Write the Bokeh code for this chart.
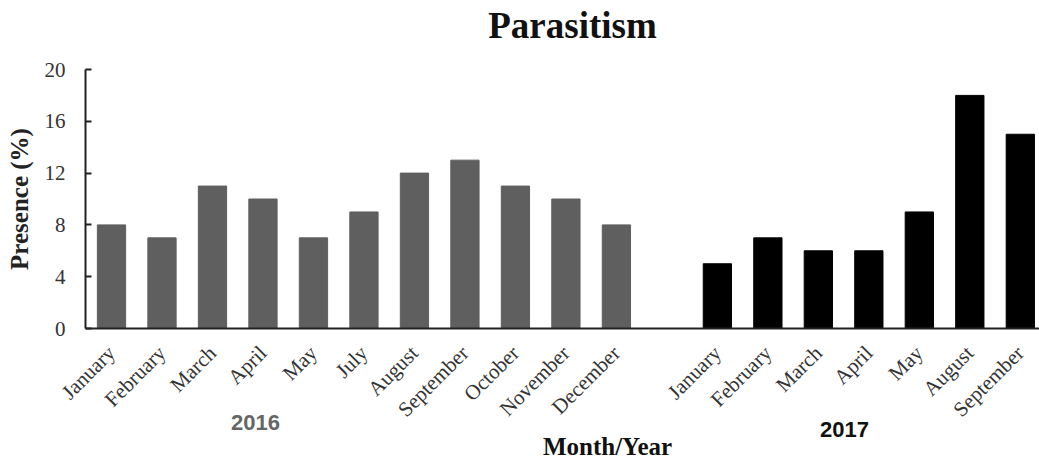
import math
from bokeh.plotting import figure
from bokeh.models import ColumnDataSource, FixedTicker, Range1d, LinearAxis
from bokeh.embed import file_html
from bokeh.resources import INLINE

# ---- data ----
months_2016 = ["January", "February", "March", "April", "May", "July", "August",
               "September", "October", "November", "December"]
values_2016 = [8, 7, 11, 10, 7, 9, 12, 13, 11, 10, 8]
months_2017 = ["January", "February", "March", "April", "May", "August", "September"]
values_2017 = [5, 7, 6, 6, 9, 18, 15]
y_ticks = [0, 4, 8, 12, 16, 20]

# slot positions (one empty slot between the years)
pos_2016 = list(range(len(months_2016)))
pos_2017 = [len(months_2016) + 1 + i for i in range(len(months_2017))]

W, H = 1039, 464
FL, FR, FT = 85, 0, 69
FB = H - 328
x_start, x_end = -0.515, 18.38
y_start, y_end = 0, 20

p = figure(width=W, height=H, output_backend="svg", toolbar_location=None,
           x_range=Range1d(x_start, x_end), y_range=Range1d(y_start, y_end),
           min_border_left=FL, min_border_right=FR, min_border_top=FT,
           min_border_bottom=FB)
p.outline_line_color = None
p.grid.visible = False
p.background_fill_color = "white"
p.border_fill_color = "white"
# pixel-like range across the frame, used only to place text labels
p.extra_x_ranges = {"px": Range1d(FL, W - FR)}

src16 = ColumnDataSource(dict(x=pos_2016, top=values_2016))
src17 = ColumnDataSource(dict(x=pos_2017, top=values_2017))
p.vbar(x="x", top="top", width=0.56, bottom=0, source=src16,
       fill_color="#5f5f5f", line_color="#5f5f5f")
p.vbar(x="x", top="top", width=0.56, bottom=0, source=src17,
       fill_color="#000000", line_color="#000000")

serif = "Liberation Serif"

# x axis
xa = p.xaxis[0]
xa.ticker = FixedTicker(ticks=pos_2016 + pos_2017)
overrides = {}
for i, m in zip(pos_2016, months_2016):
    overrides[i] = m
for i, m in zip(pos_2017, months_2017):
    overrides[i] = m
xa.major_label_overrides = overrides
xa.major_label_orientation = math.pi / 4
xa.major_label_text_font = serif
xa.major_label_text_font_size = "21px"
xa.major_label_text_color = "#333333"
xa.major_label_standoff = 15
xa.major_tick_line_color = None
xa.minor_tick_line_color = None
xa.axis_line_color = "#222222"
xa.axis_line_width = 2

# y axis
ya = p.yaxis[0]
ya.ticker = FixedTicker(ticks=y_ticks)
ya.major_label_text_font = serif
ya.major_label_text_font_size = "21px"
ya.major_label_text_color = "#333333"
ya.major_label_standoff = 20
ya.major_tick_in = 6
ya.major_tick_out = 0
ya.major_tick_line_width = 2
ya.major_tick_line_color = "#222222"
ya.minor_tick_line_color = None
ya.axis_line_color = "#222222"
ya.axis_line_width = 2
ya.axis_label = "Presence (%)"
ya.axis_label_text_font = serif
ya.axis_label_text_font_size = "25px"
ya.axis_label_text_font_style = "bold"
ya.axis_label_text_color = "#222222"
ya.axis_label_standoff = 9


def text_axis(xpos, text, side, standoff, font, size, style, color):
    ax = LinearAxis(x_range_name="px", ticker=FixedTicker(ticks=[xpos]),
                    major_label_overrides={xpos: text},
                    axis_line_color=None, major_tick_line_color=None,
                    minor_tick_line_color=None, major_tick_in=0, major_tick_out=0,
                    major_label_standoff=standoff, major_label_text_font=font,
                    major_label_text_font_size=size,
                    major_label_text_font_style=style,
                    major_label_text_color=color)
    p.add_layout(ax, side)


text_axis(572, "Parasitism", "above", 24, serif, "37px", "bold", "#111111")
text_axis(255, "2016", "below", -18, "Liberation Sans", "22px", "bold", "#666666")
text_axis(844, "2017", "below", -11, "Liberation Sans", "22px", "bold", "#111111")
text_axis(607, "Month/Year", "below", -7, serif, "25px", "bold", "#111111")

open("out.html", "w").write(file_html(p, INLINE))
